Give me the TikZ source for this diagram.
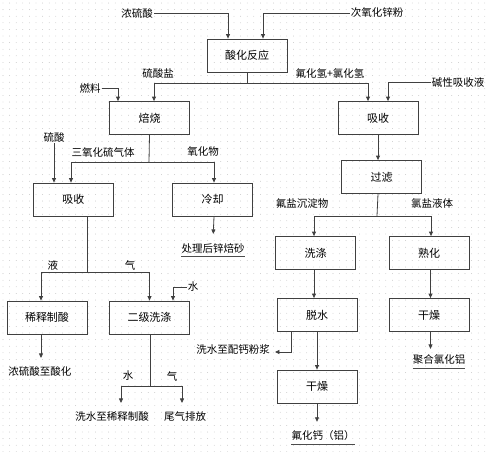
\documentclass[tikz,border=0pt]{standalone}
\usepackage{fontspec}
\newfontfamily\cjk{Noto Sans CJK SC}
\usetikzlibrary{positioning}
\usetikzlibrary{arrows.meta}

\begin{document}
\begin{tikzpicture}[x=1pt,y=-1pt,
  proc/.style={draw=black!75,line width=0.8pt,minimum width=80pt,minimum height=33pt,inner sep=0pt,font=\cjk\fontsize{11}{13}\selectfont},
  lbl/.style={inner sep=1pt,font=\cjk\fontsize{10.5}{12}\selectfont},
  prod/.style={lbl,inner xsep=0pt,inner ysep=3pt},
  flow/.style={draw=black!75,line width=0.8pt,-{Triangle[length=4.5pt,width=4pt]}},
  pipe/.style={draw=black!75,line width=0.8pt},
  uline/.style={draw=black!70,line width=0.6pt}]

\useasboundingbox (0,0) rectangle (491,451);
% grid of dots
\foreach \i in {0,...,74} \foreach \j in {0,...,68}
  \fill[black!30] (3+\i*6.6,3+\j*6.6) circle (0.4pt);

% boxes
\node[proc] (acid) at (247,55.5) {酸化反应};
\node[proc] (roast) at (149.5,118) {焙烧};
\node[proc] (absR) at (378,118) {吸收};
\node[proc] (absL) at (73.5,199.5) {吸收};
\node[proc] (cool) at (212.5,199.5) {冷却};
\node[proc] (dil) at (47,317.5) {稀释制酸};
\node[proc] (wash2) at (149.5,317.5) {二级洗涤};
\node[proc] (filt) at (381.5,177) {过滤};
\node[proc] (wash) at (315.5,253) {洗涤};
\node[proc] (mature) at (429,253) {熟化};
\node[proc] (dewat) at (317,315) {脱水};
\node[proc] (dryR) at (429,315) {干燥};
\node[proc] (dryL) at (317,386.5) {干燥};

% inputs and labels
\node[lbl] (conc) at (137,13) {浓硫酸};
\node[lbl] (zno) at (377,13) {次氧化锌粉};
\node[lbl] (sulf) at (158,73) {硫酸盐};
\node[lbl] (hf) at (330,73) {氟化氢+氯化氢};
\node[lbl] (fuel) at (90,88) {燃料};
\node[lbl] (alk) at (458,82) {碱性吸收液};
\node[lbl] (sa) at (54,137) {硫酸};
\node[lbl] (so3) at (103,152) {三氧化硫气体};
\node[lbl] (oxd) at (203,152) {氧化物};
\node[lbl] (liq) at (53,265) {液};
\node[lbl] (gas) at (130,265) {气};
\node[lbl] (water) at (193,287) {水};
\node[lbl] (wat2) at (128,376) {水};
\node[lbl] (gas2) at (172,376) {气};
\node[lbl] (fprec) at (302,203) {氟盐沉淀物};
\node[lbl] (clliq) at (432,203) {氯盐液体};

% products
\node[prod] (calc) at (213,248) {处理后锌焙砂};
\node[lbl] (back) at (40,371) {浓硫酸至酸化};
\node[lbl] (wback) at (112,417) {洗水至稀释制酸};
\node[lbl] (tail) at (185,417) {尾气排放};
\node[lbl] (slurry) at (233,349) {洗水至配钙粉浆};
\node[prod] (caf) at (323,436) {氟化钙（铝）};
\node[prod] (pac) at (439,360) {聚合氯化铝};
\draw[uline] (calc.south west) -- (calc.south east);
\draw[uline] (caf.south west) -- (caf.south east);
\draw[uline] (pac.south west) -- (pac.south east);

% junctions
\coordinate (sp1) at (247,83);
\coordinate (sp2) at (149,162);
\coordinate (sp3) at (87,272);
\coordinate (sp4) at (150,386);
\coordinate (sp5) at (377,216);

% top part
\draw[flow] (conc.east) -| ([xshift=-19pt]acid.north);
\draw[flow] (zno.west) -| ([xshift=16pt]acid.north);
\draw[pipe] (acid.south) -- (sp1);
\draw[flow] (sp1) -| ([xshift=4.5pt]roast.north);
\draw[flow] (sp1) -| ([xshift=-10pt]absR.north);
\draw[flow] (fuel.east) -| ([xshift=-31.5pt]roast.north);
\draw[flow] (alk.west) -| ([xshift=10pt]absR.north);

% left part
\draw[pipe] (roast.south) -- (sp2);
\draw[flow] (sp2) -| ([xshift=-2.5pt]absL.north);
\draw[flow] (sp2) -| ([xshift=1.5pt]cool.north);
\draw[flow] (sa.south) -- (sa.south |- absL.north);
\draw[flow,shorten >=6pt] ([xshift=1.5pt]cool.south) -- (calc.north);
\draw[pipe] ([xshift=13.5pt]absL.south) -- (sp3);
\draw[flow] (sp3) -| ([xshift=-6pt]dil.north);
\draw[flow] (sp3) -| (wash2.north);
\draw[flow] (water.west) -| ([xshift=23.5pt]wash2.north);
\draw[flow] ([xshift=-6pt]dil.south) -- ([xshift=1pt,yshift=7pt]back.north);
\draw[pipe] ([xshift=0.5pt]wash2.south) -- (sp4);
\draw[flow] (sp4) -| ([xshift=9pt,yshift=8pt]wback.north);
\draw[flow] (sp4) -| ([xshift=-3pt,yshift=8pt]tail.north);

% right part
\draw[flow] (absR.south) -- (absR.south |- filt.north);
\draw[pipe] (absR.south |- filt.south) -- (sp5);
\draw[flow] (sp5) -| ([xshift=-1.5pt]wash.north);
\draw[flow] (sp5) -| ([xshift=2pt]mature.north);
\draw[flow] ([xshift=-1.5pt]wash.south) -- ([xshift=-1.5pt]wash.south |- dewat.north);
\draw[flow] ([xshift=1.5pt]mature.south) -- ([xshift=1.5pt]mature.south |- dryR.north);
\draw[flow] (dewat.south) -- (dryL.north);
\draw[flow] ([xshift=-26pt]dewat.south) |- ([xshift=4pt,yshift=-3pt]slurry.east);
\draw[flow,shorten >=6pt] (dryL.south) -- ([xshift=-6pt]caf.north);
\draw[flow,shorten >=3pt] ([xshift=1.5pt]dryR.south) -- ([xshift=-8.5pt]pac.north);
\end{tikzpicture}
\end{document}
